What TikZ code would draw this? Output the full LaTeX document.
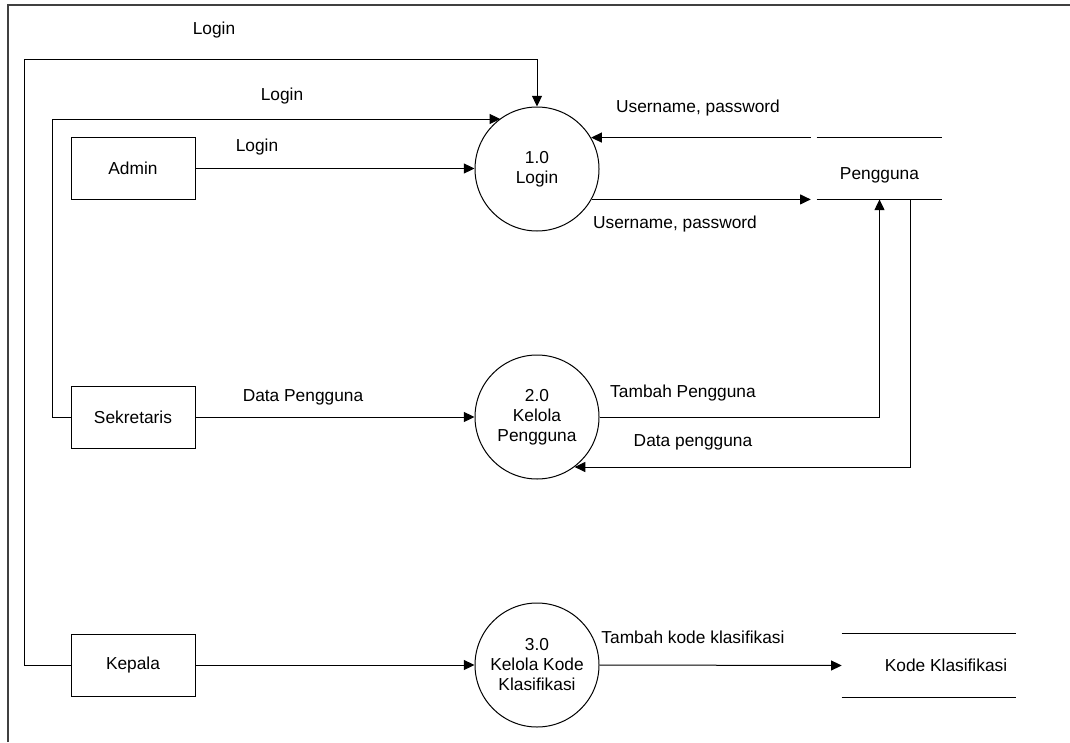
\documentclass[tikz,border=0pt]{standalone}
\usepackage{fontspec}
\setmainfont{Liberation Sans}
\usetikzlibrary{arrows.meta,calc}
\begin{document}
\begin{tikzpicture}[x=0.75pt,y=-0.75pt,
  font=\fontsize{13pt}{15pt}\selectfont,
  flow/.style={line width=0.75pt,-{Triangle[length=8pt,width=7.5pt]}},
  link/.style={line width=0.75pt},
  entity/.style={draw,line width=0.75pt,minimum width=93pt,minimum height=46.5pt,inner sep=0pt},
  proc/.style={draw,circle,line width=0.75pt,minimum size=93pt,inner sep=0pt,align=center},
  store/.style={minimum height=46pt,inner sep=0pt},
  lbl/.style={anchor=base,inner sep=0pt}]
\useasboundingbox (0,0) rectangle (1070,742);
% page frame
\draw[line width=1.2pt,black!75] (8,742) -- (8,5) -- (1070,5);

% external entities
\node[entity] (admin) at (133,168.5) {Admin};
\node[entity] (sek) at (133,417) {Sekretaris};
\node[entity] (kep) at (133,665) {Kepala};

% processes
\node[proc] (p1) at (537,169) {1.0\\Login};
\node[proc] (p2) at (537,417) {2.0\\Kelola\\Pengguna};
\node[proc] (p3) at (537,665) {3.0\\Kelola Kode\\Klasifikasi};

% data stores
\node[store,minimum width=93.75pt,text height=15.8pt,text depth=0pt] (ds1) at (879.5,168.5) {Pengguna};
\node[store,minimum width=130.5pt,minimum height=47.25pt] (ds2) at (929,665.5) {\hspace*{25.5pt}Kode Klasifikasi};
\draw[link] (ds1.north west) -- (ds1.north east) (ds1.south west) -- (ds1.south east);
\draw[link] (ds2.north west) -- (ds2.north east) (ds2.south west) -- (ds2.south east);

% login flows
\draw[flow] (kep.west) -| (24,60) -| (p1.north);
\draw[flow] (sek.west) -| (52,119) -- (p1.126.25 |- 0,119);
\draw[flow] (admin.east) -- (admin.east -| p1.west);

% user store flows
\draw[flow] ($(ds1.north west)+(-6,0)$) -- (p1.30 |- ds1.north);
\draw[flow] (p1.-29 |- ds1.south) -- ($(ds1.south west)+(-6,0)$);
\draw[flow] (p2.east) -| (ds1.south);
\draw[flow] (ds1.south -| 910,0) -- (910,467) -- (p2.-53.75 |- 0,467);
\draw[flow] (sek.east) -- (p2.west);

% classification flows
\draw[flow] (kep.east) -- (p3.west);
\draw[flow] (p3.east) -- (ds2.west);

% flow labels
\node[lbl] (l1) at (214,35) {Login};
\node[lbl] (l2) at (282,100) {Login};
\node[lbl] (l3) at (257,151) {Login};
\node[lbl] (l4) at (698,112) {Username, password};
\node[lbl] (l5) at (675,228) {Username, password};
\node[lbl] (l6) at (303,401) {Data Pengguna};
\node[lbl] (l7) at (683,397) {Tambah Pengguna};
\node[lbl] (l8) at (693,446) {Data pengguna};
\node[lbl] (l9) at (693,643) {Tambah kode klasifikasi};
\end{tikzpicture}
\end{document}
